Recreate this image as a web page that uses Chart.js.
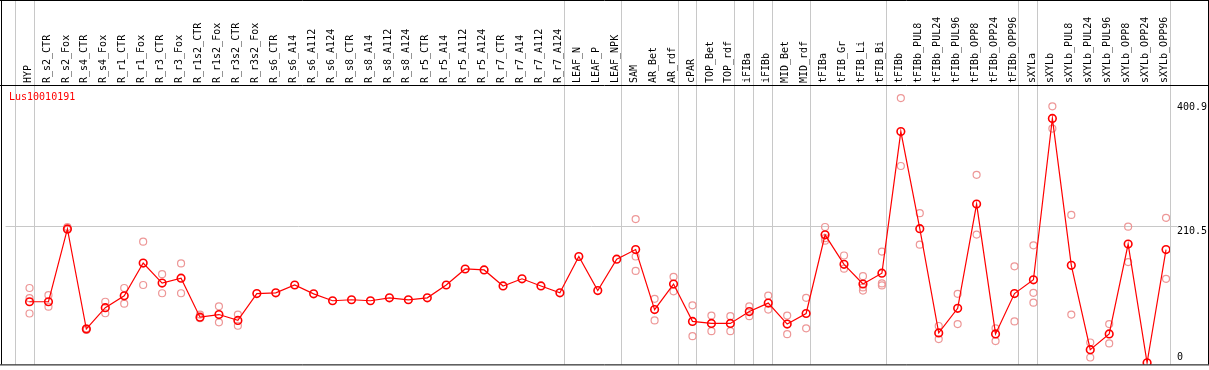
<!DOCTYPE html>
<html><head><meta charset="utf-8">
<script src="https://cdn.jsdelivr.net/npm/chart.js@4/dist/chart.umd.min.js"></script>
<style>html,body{margin:0;padding:0;background:#fff;}canvas{display:block;}</style>
</head><body>
<canvas id="c" width="1209" height="370"></canvas>
<script>
const chartTitle = "Lus10010191";
const categories = ["HYP","R_s2_CTR","R_s2_Fox","R_s4_CTR","R_s4_Fox","R_r1_CTR","R_r1_Fox","R_r3_CTR","R_r3_Fox","R_r1s2_CTR","R_r1s2_Fox","R_r3s2_CTR","R_r3s2_Fox","R_s6_CTR","R_s6_A14","R_s6_A112","R_s6_A124","R_s8_CTR","R_s8_A14","R_s8_A112","R_s8_A124","R_r5_CTR","R_r5_A14","R_r5_A112","R_r5_A124","R_r7_CTR","R_r7_A14","R_r7_A112","R_r7_A124","LEAF_N","LEAF_P","LEAF_NPK","SAM","AR_Bet","AR_rdf","cPAR","TOP_Bet","TOP_rdf","iFIBa","iFIBb","MID_Bet","MID_rdf","tFIBa","tFIB_Gr","tFIB_Li","tFIB_Bi","tFIBb","tFIBb_PUL8","tFIBb_PUL24","tFIBb_PUL96","tFIBb_OPP8","tFIBb_OPP24","tFIBb_OPP96","sXYLa","sXYLb","sXYLb_PUL8","sXYLb_PUL24","sXYLb_PUL96","sXYLb_OPP8","sXYLb_OPP24","sXYLb_OPP96"];
const meanValues = [93.7,93.7,205.5,51.8,84.6,102.7,153.1,122.4,129.9,70.0,74.0,65.0,106.2,107.3,119.4,105.8,95.2,96.7,95.2,99.7,96.7,99.7,119.4,144.0,142.5,117.9,128.9,117.9,107.3,163.2,110.8,159.1,173.8,81.6,120.9,63.5,60.4,60.4,78.6,91.6,59.4,75.6,196.4,151.1,120.9,137.5,355.1,205.9,45.8,83.6,243.7,44.3,106.2,127.4,375.2,149.6,20.1,44.3,182.2,0,173.8];
const replicateA = [114.8,103.7,208.5,52.9,93.7,114.8,185.9,136.0,152.6,74.0,86.6,74.0,null,null,null,null,null,null,null,null,null,null,null,null,null,null,null,null,null,null,null,null,220.6,98.2,131.9,88.1,72.5,71.5,86.6,103.2,72.5,99.7,208.5,164.7,133.0,170.7,406.5,229.7,56.4,105.8,288.6,52.9,148.1,180.3,393.8,227.1,31.1,59.4,209.0,null,222.6];
const replicateB = [75.6,86.1,204.4,50.3,76.0,90.7,119.4,106.7,106.7,68.4,62.0,56.8,null,null,null,null,null,null,null,null,null,null,null,null,null,null,null,null,null,null,null,null,141.0,65.0,109.7,40.8,48.4,48.4,71.5,81.6,43.8,52.9,187.4,144.5,110.8,118.8,302.2,181.3,36.3,59.4,196.9,33.2,63.5,92.2,359.6,74.0,8.0,29.6,154.6,null,128.9];
const replicateC = [99.1,null,null,null,null,null,null,null,null,null,null,null,null,null,null,null,null,null,null,null,null,null,null,null,null,null,null,null,null,null,null,null,163.2,null,null,null,null,null,null,null,null,null,191.3,null,115.7,121.8,null,null,null,null,null,null,null,107.3,null,null,null,null,null,null,null];
const yTickLabels = [0, 210.5, 400.9];
const groupEndsAfter = [-1, 0, 28, 31, 34, 35, 37, 38, 39, 41, 45, 52, 53, 60];

const toPts = arr => arr.map((v, i) => v === null ? null : {x: i, y: v}).filter(p => p);
const FONT = '10px "DejaVu Sans Mono", monospace';
const GRID = '#c8c8c8';

const decor = {
  id: 'decor',
  beforeDatasetsDraw(chart) {
    const {ctx, chartArea: a, scales: {x, y}} = chart;
    ctx.save();
    ctx.fillStyle = '#fff';
    ctx.fillRect(0, 0, chart.width, chart.height);
    ctx.strokeStyle = GRID; ctx.lineWidth = 1;
    groupEndsAfter.forEach(g => {
      const px = Math.round(x.getPixelForValue(g + 0.21)) + 0.5;
      ctx.beginPath(); ctx.moveTo(px, 0); ctx.lineTo(px, a.bottom); ctx.stroke();
    });
    const gy = Math.round(y.getPixelForValue(210.5)) + 0.5;
    ctx.beginPath(); ctx.moveTo(a.left, gy); ctx.lineTo(a.right + 7, gy); ctx.stroke();
    ctx.font = FONT; ctx.fillStyle = '#000';
    categories.forEach((c, i) => {
      ctx.save();
      ctx.translate(x.getPixelForValue(i) - 1.5, 83);
      ctx.rotate(-Math.PI / 2);
      ctx.textAlign = 'left'; ctx.textBaseline = 'middle';
      ctx.fillText(c, 0, 0);
      ctx.restore();
    });
    ctx.textAlign = 'left'; ctx.textBaseline = 'middle';
    yTickLabels.forEach(t => {
      let py = y.getPixelForValue(t) + 5.5;
      if (py > a.bottom - 7) py = a.bottom - 7;
      ctx.fillText(String(t), a.right + 7, py);
    });
    ctx.fillStyle = '#ff0000';
    ctx.fillText(chartTitle, 9, 97);
    ctx.restore();
  },
  afterDraw(chart) {
    const {ctx, chartArea: a} = chart;
    ctx.save();
    ctx.strokeStyle = '#000'; ctx.lineWidth = 1;
    ctx.beginPath();
    ctx.moveTo(0, 0.5); ctx.lineTo(chart.width, 0.5);
    ctx.moveTo(0, 85.5); ctx.lineTo(chart.width, 85.5);
    ctx.moveTo(0, a.bottom + 0.5); ctx.lineTo(chart.width, a.bottom + 0.5);
    ctx.moveTo(1.5, 0); ctx.lineTo(1.5, a.bottom);
    ctx.moveTo(chart.width - 0.5, 0); ctx.lineTo(chart.width - 0.5, a.bottom);
    ctx.stroke();
    ctx.restore();
  }
};

const repStyle = {
  showLine: false, borderColor: 'rgba(236,145,145,0.95)', backgroundColor: 'rgba(0,0,0,0)',
  pointRadius: 3.5, pointBorderWidth: 1.2, pointStyle: 'circle'
};

new Chart(document.getElementById('c'), {
  type: 'line',
  data: {
    datasets: [
      {label: 'mean', data: toPts(meanValues), borderColor: '#ff0000', borderWidth: 1.2,
       backgroundColor: 'rgba(0,0,0,0)', pointRadius: 3.8, pointBorderWidth: 1.6,
       pointBorderColor: '#ff0000', pointBackgroundColor: 'rgba(0,0,0,0)', tension: 0, order: 0},
      Object.assign({label: 'repA', data: toPts(replicateA), order: 1}, repStyle),
      Object.assign({label: 'repB', data: toPts(replicateB), order: 2}, repStyle),
      Object.assign({label: 'repC', data: toPts(replicateC), order: 3}, repStyle)
    ]
  },
  options: {
    responsive: false, animation: false, events: [],
    layout: {padding: {left: 2, right: 39, top: 85, bottom: 1}},
    plugins: {legend: {display: false}, tooltip: {enabled: false}, title: {display: false}},
    scales: {
      x: {type: 'linear', min: -1.263, max: 60.21, display: false},
      y: {type: 'linear', min: -2.57, max: 426.6, display: false}
    }
  },
  plugins: [decor]
});
</script>
</body></html>
